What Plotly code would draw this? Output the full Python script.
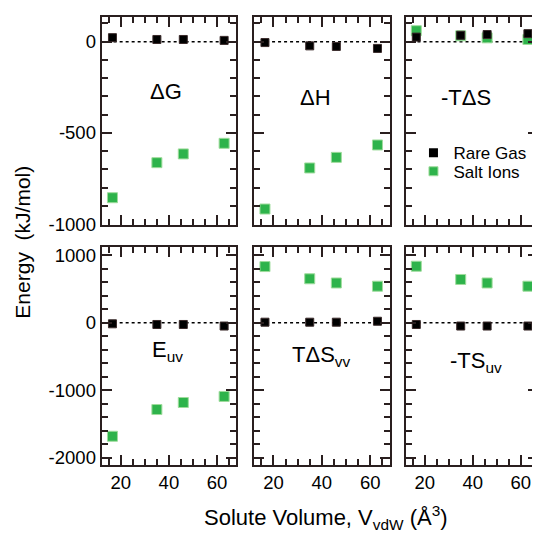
import plotly.graph_objects as go

# ---- data ----
vol_rare = [16.5, 35.0, 46.0, 63.0]
vol_salt = [16.5, 35.0, 46.0, 63.0]

panel_names = ["ΔG", "ΔH", "-TΔS", "E<sub>uv</sub>", "TΔS<sub>vv</sub>", "-TS<sub>uv</sub>"]

rare_dG = [22, 12, 12, 7]
salt_dG = [-855, -663, -615, -557]
rare_dH = [-5, -23, -26, -37]
salt_dH = [-917, -692, -634, -566]
rare_mTdS = [25, 35, 39, 44]
salt_mTdS = [60, 32, 21, 12]
rare_Euv = [-14, -24, -24, -47]
salt_Euv = [-1680, -1284, -1180, -1090]
rare_TdSvv = [10, 10, 10, 24]
salt_TdSvv = [834, 653, 591, 543]
rare_mTSuv = [-24, -47, -47, -47]
salt_mTSuv = [839, 643, 591, 543]

rare_series = [rare_dG, rare_dH, rare_mTdS, rare_Euv, rare_TdSvv, rare_mTSuv]
salt_series = [salt_dG, salt_dH, salt_mTdS, salt_Euv, salt_TdSvv, salt_mTSuv]

x_ticks = [20, 40, 60]
row1_ticks = [0, -500, -1000]
row2_ticks = [1000, 0, -1000, -2000]

# page body has an 8px margin; figure placed at (8,8)
OFF = 8
W, H = 540 - OFF, 545 - OFF


def px(xp):
    return (xp - OFF) / W


def py(yp):
    return 1 - (yp - OFF) / H


col_px = [(102, 237), (255, 391), (407, 540)]
x_ranges = [[12, 68], [12, 68], [12, 67.2]]
row_px = [(15, 228), (250, 473)]
label_pos = [(0.48, 0.64), (0.456, 0.615), (0.46, 0.615),
             (0.49, 0.52), (0.5, 0.50), (0.53, 0.47)]

FONT = "Liberation Sans, Arial, sans-serif"
AXC = "#2a1f1f"
GREEN = "#2eb34b"

fig = go.Figure()
layout = dict(
    width=W, height=H, margin=dict(l=0, r=0, t=0, b=0, pad=0),
    paper_bgcolor="white", plot_bgcolor="white",
    font=dict(family=FONT, size=17, color="black"),
    showlegend=True,
    legend=dict(x=px(415), y=py(136), xanchor="left", yanchor="top",
                bgcolor="rgba(0,0,0,0)", font=dict(size=17), itemsizing="trace"),
    legend2=dict(x=px(415), y=py(155), xanchor="left", yanchor="top",
                 bgcolor="rgba(0,0,0,0)", font=dict(size=17), itemsizing="trace"),
)
shapes = []
annotations = []

for i in range(6):
    r, c = divmod(i, 3)
    n = i + 1
    xa = "x" if n == 1 else f"x{n}"
    ya = "y" if n == 1 else f"y{n}"
    xk = "xaxis" if n == 1 else f"xaxis{n}"
    yk = "yaxis" if n == 1 else f"yaxis{n}"
    x0, x1 = col_px[c]
    y0, y1 = row_px[r]
    layout[xk] = dict(
        domain=[px(x0), min(px(x1), 1.0)], anchor=ya, range=x_ranges[c],
        tickvals=x_ticks, ticktext=[str(v) for v in x_ticks],
        showticklabels=(r == 1), ticks="inside", ticklen=10, tickwidth=1.6,
        tickcolor=AXC, showline=True, linecolor=AXC, linewidth=2,
        mirror="ticks", showgrid=False, zeroline=False,
        minor=dict(dtick=5, tick0=0, ticks="inside", ticklen=6, tickwidth=1.5, tickcolor=AXC, showgrid=False),
        tickfont=dict(size=18.5),
    )
    if r == 0:
        yr, tv, mdt = [-1005, 136], row1_ticks, 100
    else:
        yr, tv, mdt = [-2100, 1130], row2_ticks, 200
    layout[yk] = dict(
        domain=[py(y1), py(y0)], anchor=xa, range=yr,
        tickvals=tv, ticktext=[str(v) for v in tv],
        showticklabels=(c == 0), ticks="inside", ticklen=10, tickwidth=1.6,
        tickcolor=AXC, showline=True, linecolor=AXC, linewidth=2,
        mirror="ticks", showgrid=False, zeroline=False,
        minor=dict(dtick=mdt, tick0=0, ticks="inside", ticklen=6, tickwidth=1.5, tickcolor=AXC, showgrid=False),
        tickfont=dict(size=18.5),
    )
    shapes.append(dict(type="line", xref=f"{xa} domain", yref=ya, x0=0, x1=1, y0=0, y1=0,
                       line=dict(color="black", width=1.5, dash="dot"), layer="below"))
    annotations.append(dict(text=panel_names[i], xref=f"{xa} domain", yref=f"{ya} domain",
                            x=label_pos[i][0], y=label_pos[i][1], showarrow=False,
                            font=dict(size=22), xanchor="center", yanchor="middle"))
    fig.add_trace(go.Scatter(x=vol_salt, y=salt_series[i], mode="markers", xaxis=xa, yaxis=ya,
                             marker=dict(symbol="square", size=10, color=GREEN,
                                         line=dict(color="#9fdc9c", width=1)),
                             name="Salt Ions", showlegend=False))
    fig.add_trace(go.Scatter(x=vol_rare, y=rare_series[i], mode="markers", xaxis=xa, yaxis=ya,
                             marker=dict(symbol="square", size=8, color="black",
                                         line=dict(color="#3a2a2a", width=1)),
                             name="Rare Gas", showlegend=False))

# legend entries
fig.add_trace(go.Scatter(x=[None], y=[None], mode="markers", xaxis="x3", yaxis="y3",
                         marker=dict(symbol="square", size=9, color="black"),
                         name="Rare Gas", legend="legend"))
fig.add_trace(go.Scatter(x=[None], y=[None], mode="markers", xaxis="x3", yaxis="y3",
                         marker=dict(symbol="square", size=9, color=GREEN,
                                     line=dict(color="#9fdc9c", width=1)),
                         name="Salt Ions", legend="legend2"))

annotations.append(dict(text="Energy\u00a0\u00a0(kJ/mol)", xref="paper", yref="paper",
                        x=px(23), y=py(245), textangle=-90, showarrow=False,
                        font=dict(size=21), xanchor="center", yanchor="middle"))
annotations.append(dict(text="Solute Volume, V<sub>vdW</sub> (Å<sup>3</sup>)", xref="paper", yref="paper",
                        x=px(327), y=py(527), showarrow=False,
                        font=dict(size=22), xanchor="center", yanchor="middle"))

layout["shapes"] = shapes
layout["annotations"] = annotations
fig.update_layout(**layout)
fig.write_html("out.html")
